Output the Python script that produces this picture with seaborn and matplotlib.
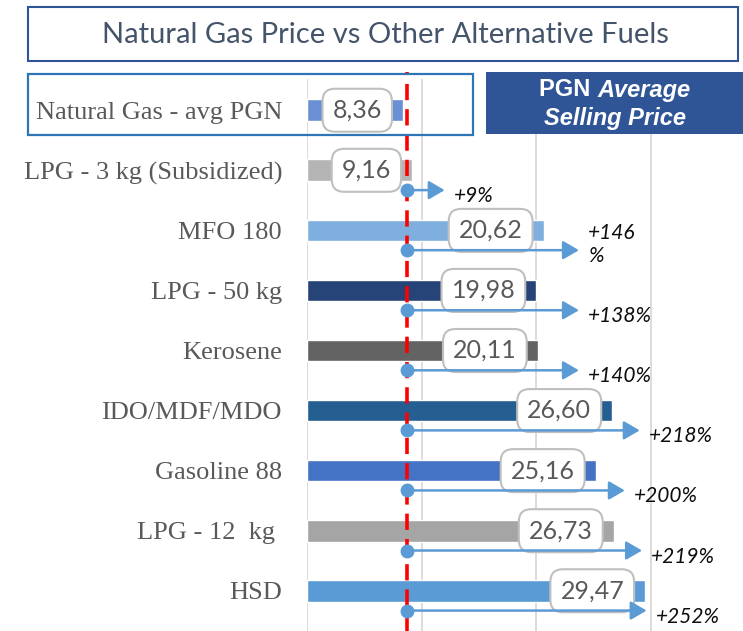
import numpy as np
import matplotlib.pyplot as plt
import seaborn as sns
from matplotlib.patches import Rectangle

# data
fuels = ["Natural Gas - avg PGN", "LPG - 3 kg (Subsidized)", "MFO 180", "LPG - 50 kg",
         "Kerosene", "IDO/MDF/MDO", "Gasoline 88", "LPG - 12  kg ", "HSD"]
prices = [8.36, 9.16, 20.62, 19.98, 20.11, 26.60, 25.16, 26.73, 29.47]
bar_colors = ["#6A8FD3", "#B4B4B4", "#7FAFDF", "#264478", "#636363",
              "#255E91", "#4472C4", "#A5A5A5", "#5B9BD5"]
pct_labels = ["+9%", "+146\n%", "+138%", "+140%", "+218%", "+200%", "+219%", "+252%"]
arrow_ends = [12.0, 23.7, 23.7, 23.7, 29.0, 27.7, 29.2, 29.6]
avg_line = 8.7

sns.set_style("white")

W, H = 743, 631
fig = plt.figure(figsize=(W / 100, H / 100), dpi=100)
ax = fig.add_axes([307 / W, 0, 436 / W, (H - 79) / H])

sns.barplot(x=prices, y=fuels, hue=fuels, palette=bar_colors, orient="h",
            width=0.36, legend=False, saturation=1, ax=ax, zorder=2)

ax.set_xlim(0, 38)
ax.set_ylim(8.67, -0.52)
ax.set_xticks([0, 10, 20, 30])
ax.set_xticklabels([])
ax.grid(axis="x", color="#D9D9D9", lw=1.3)
ax.grid(axis="y", visible=False)
ax.set_axisbelow(True)
for s in ax.spines.values():
    s.set_visible(False)
ax.tick_params(axis="both", length=0)
ax.tick_params(axis="y", pad=18, labelsize=19, labelcolor="#595959")
for lbl in ax.get_yticklabels():
    lbl.set_fontfamily("Liberation Serif")
ax.set_xlabel("")
ax.set_ylabel("")

# red dashed average line
ax.axvline(avg_line, ymin=0, ymax=1.013, color="#FF0000", lw=2.6,
           dashes=(4.5, 2.5), clip_on=False, zorder=4)

# value boxes
for i, v in enumerate(prices):
    ax.annotate(f"{v:.2f}".replace(".", ","), xy=(v, i), xytext=(-21, 0),
                textcoords="offset pixels", ha="right", va="center",
                fontsize=18, color="#595959", family="Lato", zorder=6,
                bbox=dict(boxstyle="round,pad=0.4,rounding_size=0.5",
                          fc="white", ec="#BFBFBF", lw=1.5))

# arrows showing price difference vs PGN
for k, (end, lab) in enumerate(zip(arrow_ends, pct_labels)):
    y = k + 1 + 0.33
    ax.annotate("", xy=(end, y), xytext=(avg_line, y),
                arrowprops=dict(arrowstyle="-|>,head_length=0.6,head_width=0.35",
                                mutation_scale=16, color="#5B9BD5", lw=1.8,
                                shrinkA=0, shrinkB=0), zorder=7)
    ax.plot(avg_line, y, "o", ms=9, color="#5B9BD5", zorder=8, clip_on=False)
    ax.annotate(lab, xy=(end, y), xytext=(9, -12), textcoords="offset pixels",
                ha="left", va="baseline", fontsize=15, style="italic",
                color="#0D0D0D", family="Lato", linespacing=1.2,
                annotation_clip=False, zorder=8)

# title box
fig.patches.append(Rectangle((28 / W, 1 - 61 / H), 710 / W, 54 / H,
                             transform=fig.transFigure, fill=False,
                             ec="#2F5597", lw=1.5))
fig.text(385 / W, 1 - 35 / H, "Natural Gas Price vs Other Alternative Fuels",
         ha="center", va="center", fontsize=21, color="#44546A", family="Lato")

# highlight box around the PGN row
fig.patches.append(Rectangle((28 / W, 1 - 135 / H), 445 / W, 61 / H,
                             transform=fig.transFigure, fill=False,
                             ec="#2E75B6", lw=1.6, zorder=10))

# PGN average selling price box
fig.patches.append(Rectangle((486 / W, 1 - 134 / H), 257 / W, 62 / H,
                             transform=fig.transFigure, fc="#2F5597",
                             ec="none", zorder=10))
renderer = fig.canvas.get_renderer()
t1 = fig.text(0, 1 - 90 / H, "PGN ", ha="left", va="center", fontsize=17,
              weight="bold", color="white", family="Liberation Sans", zorder=11)
t2 = fig.text(0, 1 - 90 / H, "Average", ha="left", va="center", fontsize=17,
              weight="bold", style="italic", color="white",
              family="Liberation Sans", zorder=11)
w1 = t1.get_window_extent(renderer).width
w2 = t2.get_window_extent(renderer).width
x0 = 615 - (w1 + w2) / 2
t1.set_x(x0 / W)
t2.set_x((x0 + w1) / W)
fig.text(615 / W, 1 - 119 / H, "Selling Price", ha="center", va="center",
         fontsize=17, weight="bold", style="italic", color="white",
         family="Liberation Sans", zorder=11)

fig.savefig("out.png", dpi=100)
